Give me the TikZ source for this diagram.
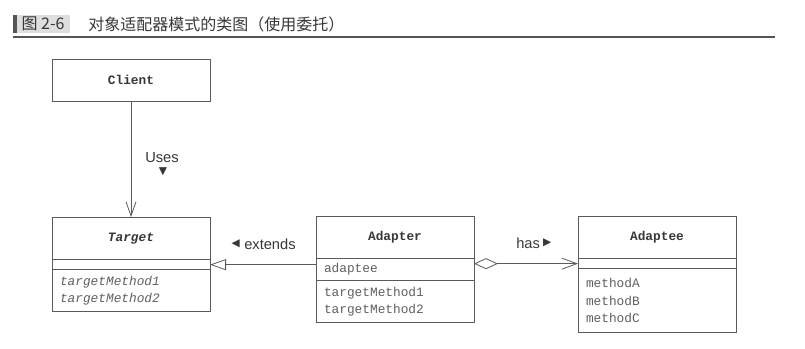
\documentclass[tikz,border=0pt]{standalone}
\usepackage{fontspec}
\setmainfont{Liberation Sans}
\setmonofont{Liberation Mono}
\newfontfamily\cjkfont{Noto Sans CJK SC}
\newfontfamily\symfont{DejaVu Sans}
\usetikzlibrary{arrows.meta, positioning}
\definecolor{umlline}{RGB}{90,90,90}
\definecolor{umltext}{RGB}{55,55,55}
\definecolor{titlebar}{RGB}{85,85,85}
\definecolor{titlebox}{RGB}{222,222,222}

\begin{document}
\begin{tikzpicture}[x=0.75pt, y=-0.75pt,
  clsname/.style={rectangle, draw=umlline, line width=0.6pt, outer sep=0pt, minimum width=118.5pt, minimum height=32pt, text=umltext, font=\ttfamily\bfseries\fontsize{9.6}{12}\selectfont},
  clsslot/.style={rectangle, draw=umlline, line width=0.6pt, outer sep=0pt, inner xsep=6pt, text width=106.5pt, align=left, text=umltext!80, font=\ttfamily\fontsize{9.6}{13}\selectfont},
  lbl/.style={text=umltext, font=\fontsize{11}{13}\selectfont, inner sep=0pt},
  tri/.style={text=umltext, font=\symfont\fontsize{8}{8}\selectfont, inner sep=0pt},
  conn/.style={draw=umlline, line width=0.6pt},
  ttl/.style={text=umltext, font=\cjkfont\fontsize{12}{14}\selectfont, inner sep=0pt}
]
\useasboundingbox (0,0) rectangle (805,349);
% Title
\fill[titlebar] (13,15) rectangle (17,33);
\fill[titlebox] (17,15) rectangle (70,33);
\node[ttl] (fignum) at (43,24) {图 2-6};
\node[ttl, anchor=west] (figtitle) at (88,24) {对象适配器模式的类图（使用委托）};
\draw[titlebar, line width=1pt] (13,37) -- (775,37);
% Client
\node[clsname, anchor=north west] (client) at (52,59) {Client};
% Target
\node[clsname, anchor=north west] (tgtname) at (52,217) {\itshape Target};
\node[clsslot, below=0pt of tgtname, minimum height=7.5pt] (tgtempty) {};
\node[clsslot, below=0pt of tgtempty, minimum height=31.5pt] (tgtops) {\itshape targetMethod1\\targetMethod2};
% Adapter
\node[clsname, anchor=north west] (adpname) at (316,216) {Adapter};
\node[clsslot, below=0pt of adpname, minimum height=16.5pt] (adpattr) {adaptee};
\node[clsslot, below=0pt of adpattr, minimum height=31.5pt] (adpops) {targetMethod1\\targetMethod2};
% Adaptee
\node[clsname, anchor=north west] (adename) at (578,216) {Adaptee};
\node[clsslot, below=0pt of adename, minimum height=7.5pt] (adeempty) {};
\node[clsslot, below=0pt of adeempty, minimum height=48pt] (adeops) {methodA\\methodB\\methodC};
% Labels
\node[lbl] (uses) at (162,158) {Uses};
\node[tri] (usestri) at (163,172) {▼};
\node[lbl, anchor=west] (extends) at (244,244) {extends};
\node[tri, left=3pt of extends] (extendstri) {◀};
\node[lbl, anchor=west] (has) at (516,243) {has};
\node[tri, right=2pt of has] (hastri) {▶};
% Arrows
\draw[conn, -{Straight Barb[length=10.5pt, width=7.5pt]}] (client) -- (tgtname);
\draw[conn, -{Triangle[open, length=12pt, width=8.25pt, fill=white]}] (tgtempty.east -| adpattr.west) -- (tgtempty.east);
\draw[conn, {Diamond[open, length=18pt, width=8.25pt, fill=white]}-{Straight Barb[length=11.25pt, width=8.25pt]}] (adeempty.west -| adpattr.east) -- (adeempty.west);
\end{tikzpicture}
\end{document}
